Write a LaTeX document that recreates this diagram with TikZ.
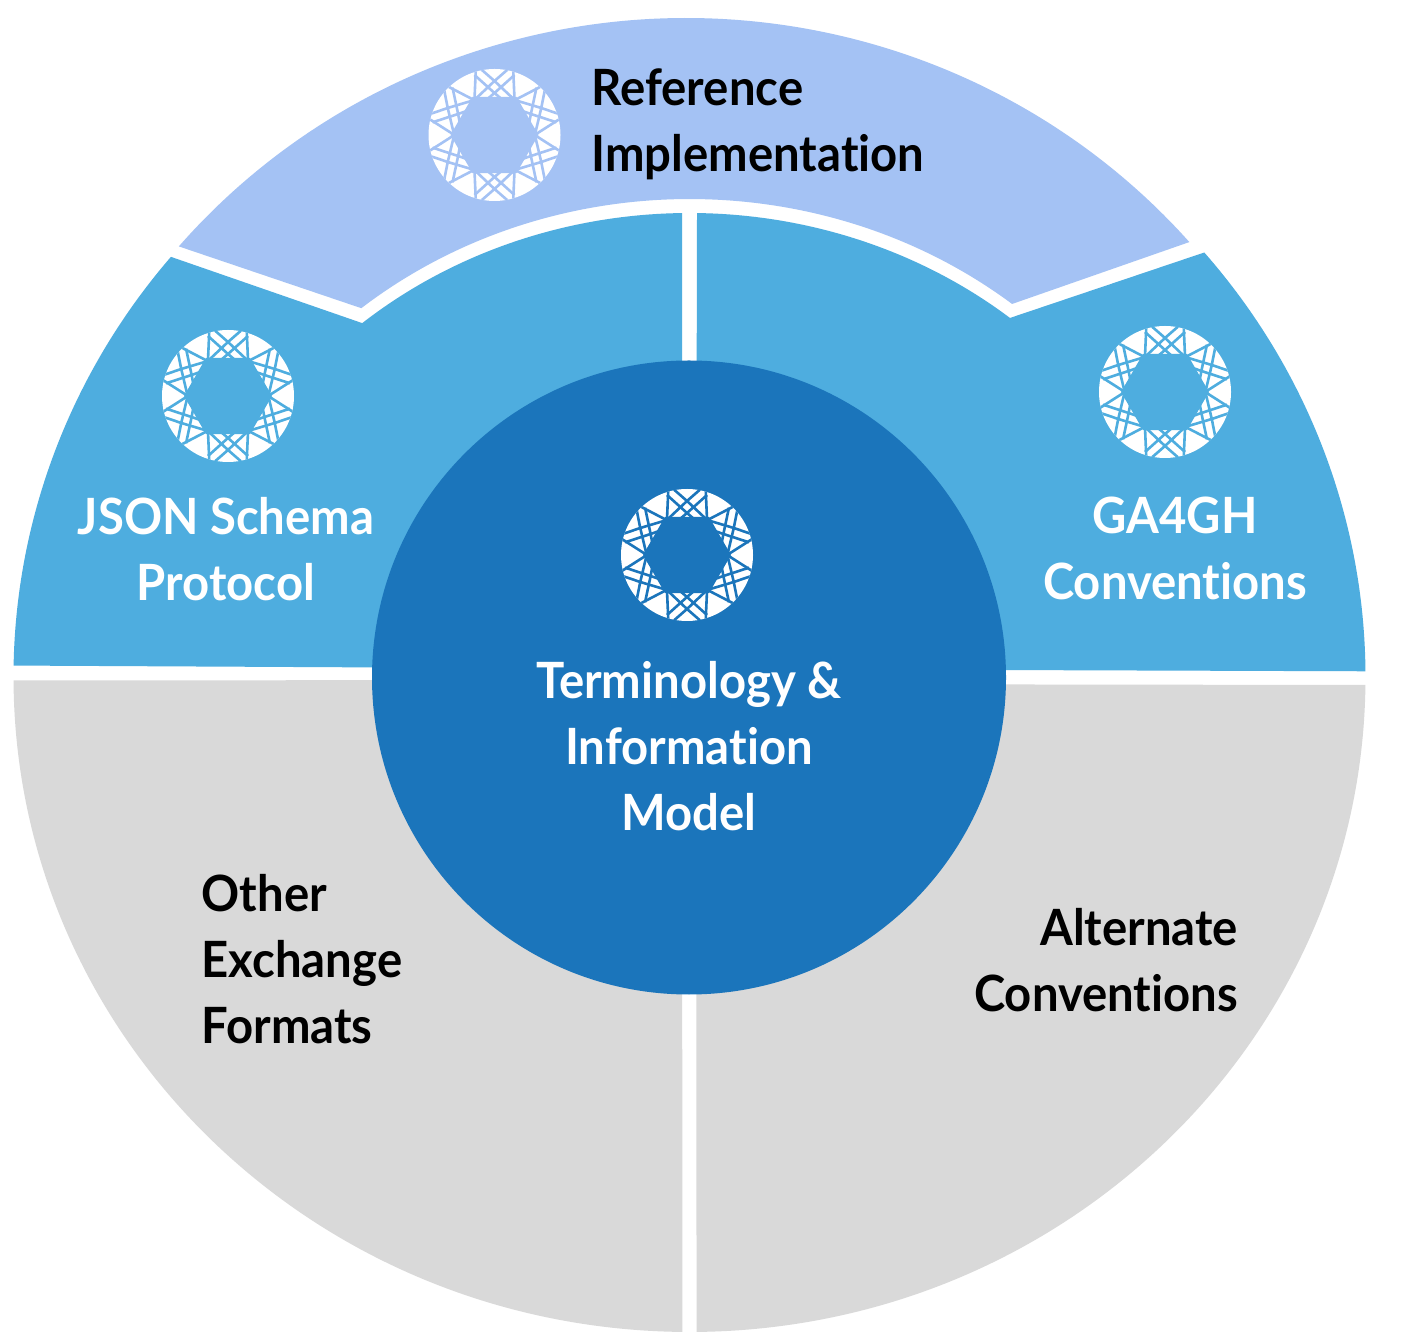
\documentclass[tikz,border=0pt]{standalone}
\usepackage{fontspec}
\setmainfont[FakeStretch=0.945,Ligatures=NoCommon]{Lato}
\definecolor{coreblue}{HTML}{1B75BB}
\definecolor{midblue}{HTML}{4EADDF}
\definecolor{paleblue}{HTML}{A4C2F4}
\definecolor{ringgrey}{HTML}{D9D9D9}
\newcommand{\gaLogo}[3]{%
  \begin{scope}[shift={(#1,#2)}]
    \fill[white] (0,0) circle[radius=66pt];
    \begin{scope}
      \clip (0,0) circle[radius=66pt];
      \fill[#3] (0:44pt) -- (60:44pt) -- (120:44pt) -- (180:44pt) -- (240:44pt) -- (300:44pt) -- cycle;
      \foreach \r in {0,60,...,300}{
        \begin{scope}[rotate=\r,line width=2.6pt]
          \draw[#3] (-20,36) -- (-18.5,70);
          \draw[#3] (20,36) -- (18.5,70);
          \draw[#3] (-16,68) -- (0,54) -- (18,37);
          \draw[#3] (16,68) -- (0,54) -- (-18,37);
          \draw[#3] (-20,60) -- (0,42) -- (7,36);
          \draw[#3] (20,60) -- (0,42) -- (-7,36);
        \end{scope}
      }
    \end{scope}
  \end{scope}
}
\tikzset{
  lbl/.style={font=\fontsize{50}{66}\selectfont\bfseries,inner sep=0pt,anchor=center},
  x=1pt,y=1pt
}
\begin{document}
\begin{tikzpicture}
\useasboundingbox (0,0) rectangle (1402,1342);
\fill[white] (0,0) rectangle (1402,1342);
\coordinate (C) at (689.5,665);
\coordinate (lb) at (682,673);
\coordinate (rb) at (696,673);
\coordinate (gl) at (682,662);
\coordinate (gr) at (696,658);
% pale top segment
\begin{scope}[shift={(686,665)}]
  \fill[paleblue] (139.2:670pt and 659pt) arc[start angle=139.2,end angle=41.3,x radius=670pt,y radius=659pt]
    -- ([xshift=3.5pt]51.3:516pt and 478pt) arc[start angle=51.3,end angle=129.5,x radius=516pt,y radius=478pt] -- cycle;
\end{scope}
\begin{scope}[shift={(C)}]
  % left blue
  \fill[midblue] (179:676pt and 655pt) arc[start angle=179,end angle=140.1,x radius=676pt,y radius=655pt]
    -- (130.3:506pt and 464pt) arc[start angle=130.3,end angle=90.85,x radius=506pt,y radius=464pt]
    -- (lb) -- cycle;
  % right blue
  \fill[midblue] (89.15:506pt and 464pt) arc[start angle=89.15,end angle=50.7,x radius=506pt,y radius=464pt]
    -- (40.4:676pt and 655pt) arc[start angle=40.4,end angle=0.5,x radius=676pt,y radius=655pt]
    -- (rb) -- cycle;
  % grey
  \fill[ringgrey] (180.3:676pt and 655pt) arc[start angle=180.3,end angle=269.4,x radius=676pt,y radius=655pt]
    -- (gl) -- cycle;
  \fill[ringgrey] (270.6:676pt and 655pt) arc[start angle=270.6,end angle=359.3,x radius=676pt,y radius=655pt]
    -- (gr) -- cycle;
\end{scope}
\fill[coreblue] (689,664.5) circle[radius=317pt];
\gaLogo{494.5}{1207}{paleblue}
\gaLogo{228}{946}{midblue}
\gaLogo{1165}{950}{midblue}
\gaLogo{687}{787}{coreblue}
\node[lbl,align=left,text=black] (ref) at (758,1218) {Reference\\Implementation};
\node[lbl,align=center,text=white] (json) at (226,793) {JSON Schema\\Protocol};
\node[lbl,align=center,text=white] (conv) at (1175,794) {GA4GH\\Conventions};
\node[lbl,align=center,text=white] (term) at (689,595.5) {Terminology \&\\Information\\Model};
\node[lbl,align=left,text=black] (other) at (302,383) {Other\\Exchange\\Formats};
\node[lbl,align=right,text=black] (alt) at (1106,382) {Alternate\\Conventions};
\end{tikzpicture}
\end{document}
